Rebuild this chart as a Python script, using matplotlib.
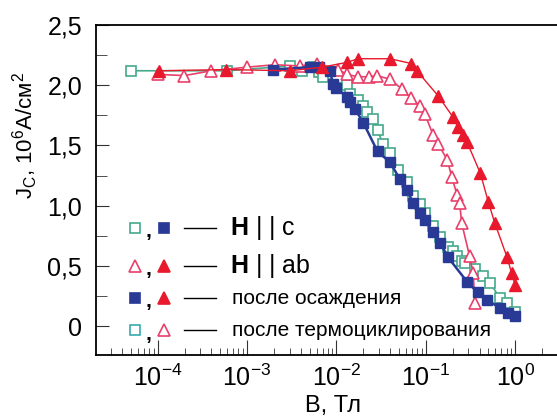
import numpy as np
import matplotlib.pyplot as plt
from matplotlib.ticker import FixedLocator, LogLocator, NullFormatter

plt.rcParams['font.family'] = ['Liberation Sans', 'DejaVu Sans']
plt.rcParams['mathtext.fontset'] = 'custom'
plt.rcParams['mathtext.rm'] = 'Liberation Sans'
plt.rcParams['mathtext.bf'] = 'Liberation Sans:bold'

# H || c, after thermocycling (open squares)
logB_c_tc = [-4.30, -3.22, -2.52, -2.39, -2.26, -2.19, -2.15, -1.88, -1.85, -1.76, -1.70,
             -1.66, -1.59, -1.54, -1.48, -1.40, -1.31, -1.21, -1.14, -1.07, -1.01, -0.92,
             -0.84, -0.75, -0.70, -0.65, -0.60, -0.56, -0.45, -0.36, -0.28, -0.17, -0.09, 0.0]
J_c_tc = [2.12, 2.12, 2.16, 2.12, 2.15, 2.11, 2.07, 2.00, 1.93, 1.88, 1.83,
          1.78, 1.72, 1.63, 1.51, 1.44, 1.30, 1.20, 1.08, 1.01, 0.94, 0.83,
          0.74, 0.66, 0.62, 0.58, 0.54, 0.52, 0.47, 0.42, 0.36, 0.23, 0.19, 0.12]

# H || c, after deposition (filled squares)
logB_c_dep = [-2.71, -2.30, -2.19, -2.07, -2.04, -2.00, -1.88, -1.85, -1.79, -1.70, -1.54,
              -1.40, -1.29, -1.21, -1.14, -1.07, -1.01, -0.92, -0.84, -0.75, -0.54, -0.42,
              -0.32, -0.17, -0.08, 0.0]
J_c_dep = [2.13, 2.15, 2.15, 2.12, 2.01, 1.98, 1.90, 1.86, 1.80, 1.69, 1.45,
           1.36, 1.22, 1.13, 1.02, 0.94, 0.88, 0.78, 0.69, 0.57, 0.37, 0.28,
           0.22, 0.15, 0.11, 0.08]

# H || ab, after thermocycling (open triangles)
logB_ab_tc = [-4.00, -3.70, -3.40, -3.00, -2.69, -2.41, -2.22, -1.98, -1.88, -1.76, -1.63,
              -1.55, -1.40, -1.27, -1.16, -1.07, -1.01, -0.92, -0.86, -0.76, -0.71, -0.65,
              -0.62, -0.60, -0.51, -0.47, -0.45]
J_ab_tc = [2.09, 2.08, 2.12, 2.15, 2.17, 2.16, 2.18, 2.13, 2.09, 2.07, 2.07,
           2.08, 2.05, 1.97, 1.89, 1.83, 1.76, 1.59, 1.51, 1.38, 1.24, 1.09,
           1.02, 0.86, 0.58, 0.44, 0.19]

# H || ab, after deposition (filled triangles)
logB_ab_dep = [-3.98, -3.23, -2.52, -2.16, -1.88, -1.76, -1.40, -1.16, -1.10, -0.86, -0.70,
               -0.64, -0.58, -0.54, -0.39, -0.30, -0.23, -0.09, -0.04, 0.0]
J_ab_dep = [2.12, 2.13, 2.12, 2.15, 2.19, 2.22, 2.22, 2.18, 2.12, 1.91, 1.74,
            1.65, 1.59, 1.53, 1.27, 1.03, 0.86, 0.57, 0.44, 0.34]

teal = '#45a98c'
blue = '#283a96'
pink = '#e8406a'
red = '#e8192c'

fig = plt.figure(figsize=(5.57, 4.19), dpi=100)
ax = fig.add_axes([96 / 557, 1 - 355 / 419, 1 - 96 / 557, (355 - 25) / 419])

def B(v):
    return 10 ** np.array(v)

ax.plot(B(logB_c_tc), J_c_tc, '-', color=teal, lw=1.2, marker='s', ms=7,
        mfc='white', mec=teal, mew=1.2, zorder=3)
ax.plot(B(logB_ab_tc), J_ab_tc, '-', color=pink, lw=1.2, marker='^', ms=8,
        mfc='white', mec=pink, mew=1.2, zorder=3)
ax.plot(B(logB_c_dep), J_c_dep, '-', color=blue, lw=1.8, marker='s', ms=7,
        mfc=blue, mec=blue, zorder=4)
ax.plot(B(logB_ab_dep), J_ab_dep, '-', color=red, lw=1.0, marker='^', ms=9,
        mfc=red, mec=red, zorder=4)

ax.set_xscale('log')
ax.set_xlim(10 ** -4.69, 10 ** 0.468)
ax.set_ylim(-0.24, 2.5)

ax.spines['right'].set_visible(False)
for s in ['left', 'top', 'bottom']:
    ax.spines[s].set_linewidth(1.3)

ax.xaxis.set_major_locator(FixedLocator([1e-4, 1e-3, 1e-2, 1e-1, 1e0]))
ax.xaxis.set_minor_locator(LogLocator(base=10, subs=np.arange(2, 10), numticks=20))
ax.xaxis.set_minor_formatter(NullFormatter())
ax.set_xticklabels([r'10$^{-4}$', r'10$^{-3}$', r'10$^{-2}$', r'10$^{-1}$', r'10$^{0}$'])

yt = [0, 0.5, 1.0, 1.5, 2.0, 2.5]
ax.set_yticks(yt)
ax.set_yticklabels(['0', '0,5', '1,0', '1,5', '2,0', '2,5'])
ax.set_yticks([0.25, 0.75, 1.25, 1.75, 2.25], minor=True)

ax.tick_params(axis='both', which='both', direction='in', labelsize=18, color='#333333')
ax.tick_params(axis='y', which='major', length=9, pad=10)
ax.tick_params(axis='y', which='minor', length=8)
ax.tick_params(axis='x', which='major', length=11, pad=7)
ax.tick_params(axis='x', which='minor', length=5)

ax.set_xlabel('B, Тл', fontsize=17, labelpad=0)
ax.xaxis.set_label_coords((333 - 96) / 461, -0.12)
ax.set_ylabel(r'J$_\mathregular{C}$, 10$^\mathregular{6}$A/см$^\mathregular{2}$', fontsize=16)
ax.yaxis.set_label_coords(-(96 - 40) / 461, (355 - 135) / 330)

# legend made of text and marker samples
def fx(px):
    return px / 557

def fy(py):
    return 1 - py / 419

rows = [
    (228, dict(marker='s', mfc='white', mec=teal, ms=7), dict(marker='s', mfc=blue, mec=blue, ms=7)),
    (266, dict(marker='^', mfc='white', mec=pink, ms=8), dict(marker='^', mfc=red, mec=red, ms=9)),
    (298, dict(marker='s', mfc=blue, mec=blue, ms=7), dict(marker='^', mfc=red, mec=red, ms=9)),
    (330, dict(marker='s', mfc='white', mec='#3aaab0', ms=7), dict(marker='^', mfc='white', mec=pink, ms=8)),
]
for py, m1, m2 in rows:
    fig.add_artist(plt.Line2D([fx(135)], [fy(py)], transform=fig.transFigure, mew=1.2, **m1))
    fig.add_artist(plt.Line2D([fx(164)], [fy(py)], transform=fig.transFigure, mew=1.2, **m2))
    fig.text(fx(148), fy(py + 4), ',', fontsize=15, ha='center', va='center', fontweight='bold')
    fig.add_artist(plt.Line2D([fx(184), fx(216)], [fy(py), fy(py)], transform=fig.transFigure,
                              color='black', lw=1))

fig.text(fx(230), fy(228), r'$\mathbf{H}$ | | c', fontsize=18, va='center')
fig.text(fx(230), fy(266), r'$\mathbf{H}$ | | ab', fontsize=18, va='center')
fig.text(fx(232), fy(298), 'после осаждения', fontsize=15, va='center')
fig.text(fx(232), fy(330), 'после термоциклирования', fontsize=15, va='center')

fig.savefig('out.png', dpi=100)
